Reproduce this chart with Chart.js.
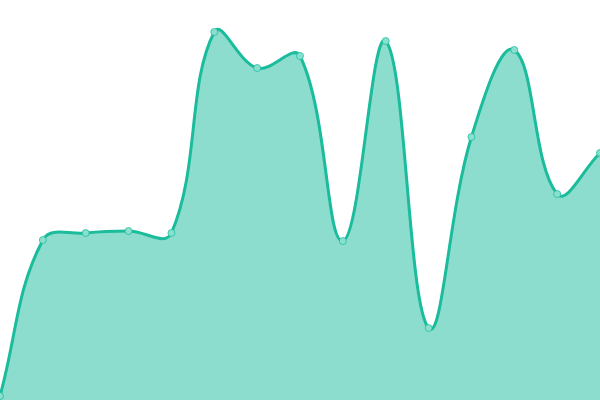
<!DOCTYPE html>
<html><head><meta charset="utf-8">
<script src="https://cdn.jsdelivr.net/npm/chart.js@4"></script>
<style>html,body{margin:0;padding:0;background:#fff}#w{width:600px;height:400px}</style>
</head><body><div id="w"><canvas id="c"></canvas></div>
<script>
const labels = ['1','2','3','4','5','6','7','8','9','10','11','12','13','14','15'];
const values = [4, 160, 167, 169, 167, 368, 332, 344, 159, 359, 72, 263, 350, 206, 247];
new Chart(document.getElementById('c'), {
  type: 'line',
  data: { labels: labels, datasets: [{
    data: values,
    fill: true,
    backgroundColor: 'rgba(26,188,156,0.5)',
    borderColor: '#1abc9c',
    borderWidth: 3,
    tension: 0.4,
    pointRadius: 3.5,
    pointBackgroundColor: '#8ae0cf',
    pointBorderColor: 'rgba(26,188,156,0.75)',
    pointBorderWidth: 1
  }]},
  options: {
    responsive: true, maintainAspectRatio: false, animation: false,
    layout: { padding: 0, autoPadding: false },
    plugins: { legend: { display: false }, tooltip: { enabled: false } },
    scales: {
      x: { display: false, offset: false },
      y: { display: false, min: 0, max: 400 }
    }
  }
});
</script></body></html>
